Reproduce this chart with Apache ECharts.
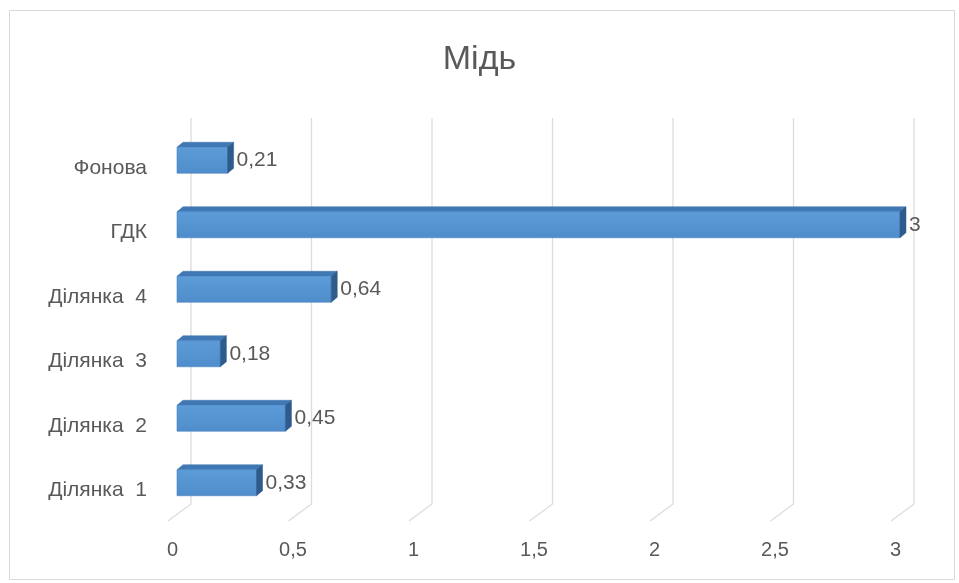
<!DOCTYPE html>
<html>
<head>
<meta charset="utf-8">
<script src="https://cdn.jsdelivr.net/npm/echarts@6/dist/echarts.min.js"></script>
<style>html,body{margin:0;padding:0;background:#fff}#c{width:959px;height:583px}</style>
</head>
<body>
<div id="c"></div>
<script>
const titleText = 'Мідь';
const categories = ['Ділянка  1', 'Ділянка  2', 'Ділянка  3', 'Ділянка  4', 'ГДК', 'Фонова'];
const values = [0.33, 0.45, 0.18, 0.64, 3, 0.21];
const xTicks = [0, 0.5, 1, 1.5, 2, 2.5, 3];

const fmt = v => String(v).replace('.', ',');
const FONT = 'Liberation Sans';
const TXT = '#595959';

const chart = echarts.init(document.getElementById('c'), null, {renderer: 'canvas'});

function renderGrid(params, api) {
  const v = api.value(0);
  const cs = params.coordSys;
  const p = api.coord([v, 0]);
  const x = p[0] + 14;
  const yTop = cs.y - 8;
  const yBot = cs.y + cs.height - 9;
  return {
    type: 'polyline',
    shape: {points: [[x, yTop], [x, yBot], [x - 23, yBot + 17]]},
    style: {stroke: '#dcdcdc', lineWidth: 1.3, fill: null}
  };
}

function renderBar(params, api) {
  const v = api.value(0);
  const i = api.value(1);
  const s = api.coord([0, i]);
  const e = api.coord([v, i]);
  const x0 = s[0], x1 = e[0], yc = s[1];
  const ft = yc - 11, fb = yc + 15, dx = 6, dy = 5;
  return {
    type: 'group',
    children: [
      {type: 'polygon', shape: {points: [[x0, ft], [x1, ft], [x1 + dx, ft - dy], [x0 + dx, ft - dy]]},
       style: {fill: '#3f78b4', stroke: '#3a70a8', lineWidth: 0.5}},
      {type: 'rect', shape: {x: x0, y: ft, width: x1 - x0, height: fb - ft},
       style: {fill: new echarts.graphic.LinearGradient(0, 0, 0, 1, [
         {offset: 0, color: '#5c9cd8'}, {offset: 1, color: '#4f8ccb'}]), stroke: '#4a84c0', lineWidth: 0.6}},
      {type: 'polygon', shape: {points: [[x1, ft], [x1 + dx, ft - dy], [x1 + dx, fb - dy], [x1, fb]]},
       style: {fill: '#2c5b8c', stroke: '#2c5b8c', lineWidth: 0.5}},
      {type: 'text', style: {text: fmt(v), x: x1 + dx + 3, y: yc + 2, textAlign: 'left', textVerticalAlign: 'middle',
        fill: TXT, font: '21px "' + FONT + '"'}}
    ]
  };
}

chart.setOption({
  animation: false,
  backgroundColor: '#fff',
  title: {
    text: titleText, left: 'center', top: 38,
    textStyle: {color: TXT, fontFamily: FONT, fontWeight: 'normal', fontSize: 34}
  },
  graphic: [{
    type: 'rect', shape: {x: 9.5, y: 10.5, width: 945, height: 569},
    style: {fill: null, stroke: '#d9d9d9', lineWidth: 1}, z: -10
  }],
  grid: {left: 177, right: 59, top: 126, bottom: 70},
  xAxis: {
    type: 'value', min: 0, max: 3, interval: 0.5,
    axisLine: {show: false}, axisTick: {show: false}, splitLine: {show: false},
    axisLabel: {color: TXT, fontFamily: FONT, fontSize: 20, margin: 27, padding: [0, 9, 0, 0],
      formatter: v => fmt(v)}
  },
  yAxis: {
    type: 'category', data: categories,
    axisLine: {show: false}, axisTick: {show: false}, splitLine: {show: false},
    axisLabel: {color: TXT, fontFamily: FONT, fontSize: 21, margin: 30, verticalAlign: 'top', lineHeight: 19}
  },
  series: [
    {type: 'custom', renderItem: renderGrid, data: xTicks.map(v => [v]), z: 1, silent: true},
    {type: 'custom', renderItem: renderBar, data: values.map((v, i) => [v, i]), z: 5,
     encode: {x: 0, y: 1}}
  ]
});
</script>
</body>
</html>
